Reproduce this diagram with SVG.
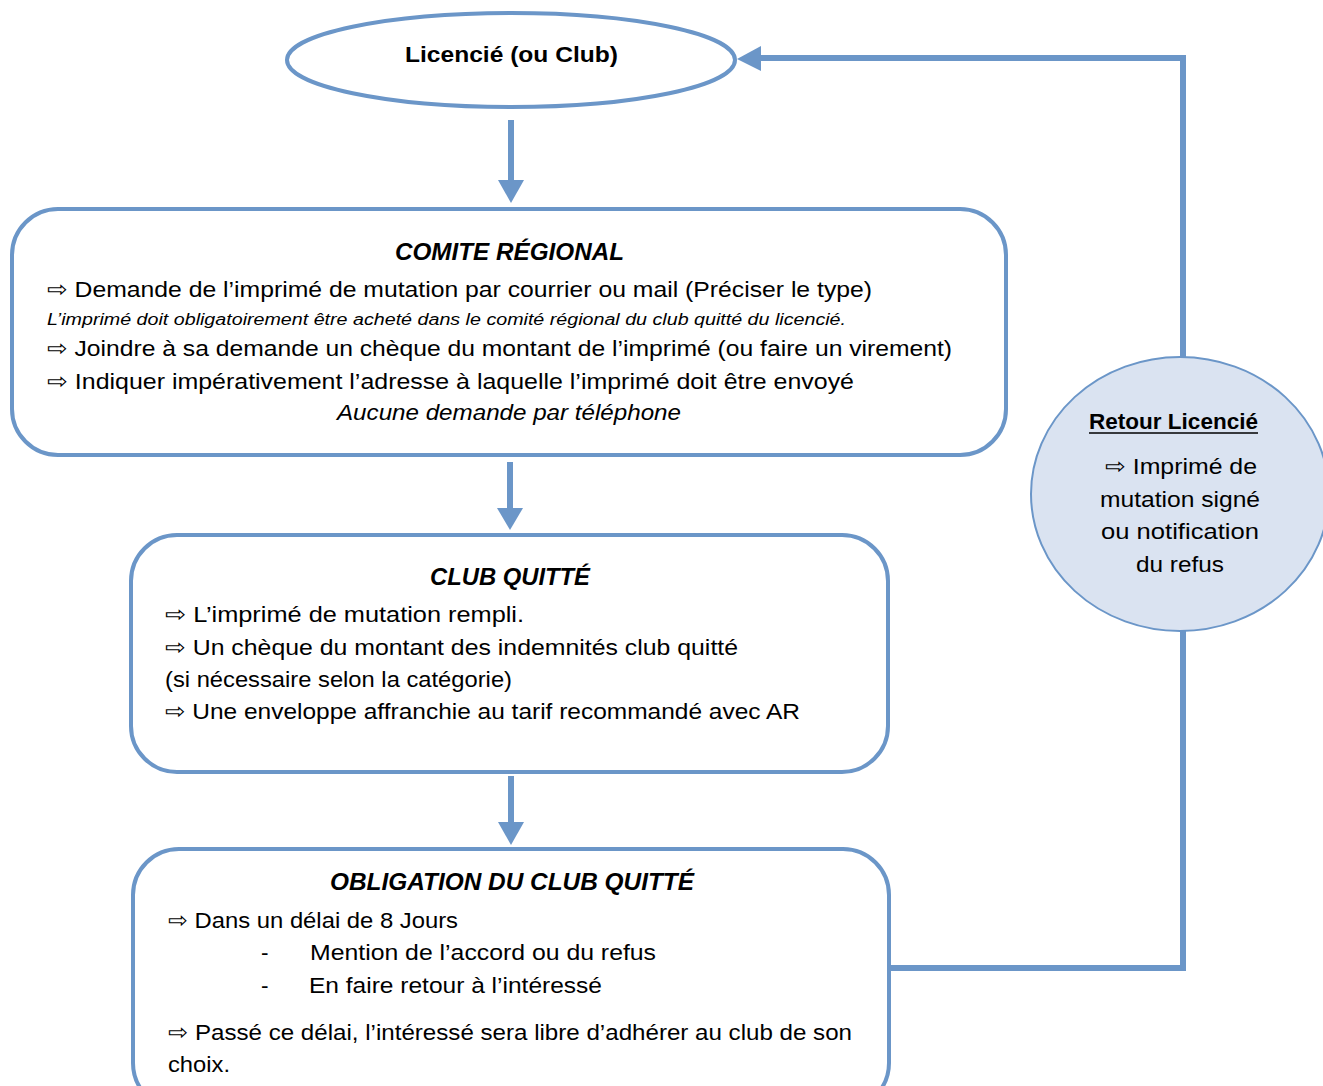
<svg xmlns="http://www.w3.org/2000/svg" width="1323" height="1086" viewBox="0 0 1323 1086">
<style>
.box{fill:#ffffff;stroke:#6b96c8;stroke-width:4}
.ln{fill:none;stroke:#6b96c8;stroke-width:6}
.hd{fill:#6b96c8}
text{font-family:"Liberation Sans","DejaVu Sans",sans-serif;fill:#000;font-size:22.5px}
.t{font-weight:bold;font-style:italic;font-size:24.5px}
.b{font-weight:bold}
.i{font-style:italic}
.s{font-style:italic;font-size:16px}
</style>
<rect width="1323" height="1086" fill="#ffffff"/>
<g id="connectors">
<line class="ln" x1="511" y1="120" x2="511" y2="182"/>
<polygon class="hd" points="498,180 524,180 511,203"/>
<line class="ln" x1="510" y1="462" x2="510" y2="510"/>
<polygon class="hd" points="497,508 523,508 510,530"/>
<line class="ln" x1="511" y1="776" x2="511" y2="824"/>
<polygon class="hd" points="498,822 524,822 511,845"/>
<polyline class="ln" points="889,968 1183,968 1183,630"/>
<polyline class="ln" points="1183,360 1183,58 758,58"/>
<polygon class="hd" points="761,46 761,71 737,59"/>
</g>
<g id="licencie">
<ellipse class="box" cx="511" cy="60" rx="224" ry="47"/>
<text class="b" x="405" y="62" textLength="213" lengthAdjust="spacingAndGlyphs">Licencié (ou Club)</text>
</g>
<g id="comite">
<rect class="box" x="12" y="209" width="994" height="246" rx="46"/>
<text class="t" x="395" y="260" textLength="229" lengthAdjust="spacingAndGlyphs">COMITE RÉGIONAL</text>
<text x="47" y="297" textLength="825" lengthAdjust="spacingAndGlyphs">⇨ Demande de l’imprimé de mutation par courrier ou mail (Préciser le type)</text>
<text class="s" x="47" y="325" textLength="799" lengthAdjust="spacingAndGlyphs">L’imprimé doit obligatoirement être acheté dans le comité régional du club quitté du licencié.</text>
<text x="47" y="356" textLength="905" lengthAdjust="spacingAndGlyphs">⇨ Joindre à sa demande un chèque du montant de l’imprimé (ou faire un virement)</text>
<text x="47" y="389" textLength="807" lengthAdjust="spacingAndGlyphs">⇨ Indiquer impérativement l’adresse à laquelle l’imprimé doit être envoyé</text>
<text class="i" x="337" y="420" textLength="344" lengthAdjust="spacingAndGlyphs">Aucune demande par téléphone</text>
</g>
<g id="club-quitte">
<rect class="box" x="131" y="535" width="757" height="237" rx="46"/>
<text class="t" x="430" y="585" textLength="160" lengthAdjust="spacingAndGlyphs">CLUB QUITTÉ</text>
<text x="165" y="622" textLength="359" lengthAdjust="spacingAndGlyphs">⇨ L’imprimé de mutation rempli.</text>
<text x="165" y="655" textLength="573" lengthAdjust="spacingAndGlyphs">⇨ Un chèque du montant des indemnités club quitté</text>
<text x="165" y="687" textLength="347" lengthAdjust="spacingAndGlyphs">(si nécessaire selon la catégorie)</text>
<text x="165" y="719" textLength="635" lengthAdjust="spacingAndGlyphs">⇨ Une enveloppe affranchie au tarif recommandé avec AR</text>
</g>
<g id="obligation">
<rect class="box" x="133" y="849" width="756" height="260" rx="46"/>
<text class="t" x="330" y="890" textLength="364" lengthAdjust="spacingAndGlyphs">OBLIGATION DU CLUB QUITTÉ</text>
<text x="168" y="928" textLength="290" lengthAdjust="spacingAndGlyphs">⇨ Dans un délai de 8 Jours</text>
<text x="261" y="960">-</text>
<text x="310" y="960" textLength="346" lengthAdjust="spacingAndGlyphs">Mention de l’accord ou du refus</text>
<text x="261" y="993">-</text>
<text x="309" y="993" textLength="293" lengthAdjust="spacingAndGlyphs">En faire retour à l’intéressé</text>
<text x="168" y="1040" textLength="684" lengthAdjust="spacingAndGlyphs">⇨ Passé ce délai, l’intéressé sera libre d’adhérer au club de son</text>
<text x="168" y="1072" textLength="62" lengthAdjust="spacingAndGlyphs">choix.</text>
</g>
<g id="retour">
<ellipse cx="1180" cy="494" rx="149" ry="137" fill="#dae3f1" stroke="#6b96c8" stroke-width="2"/>
<text class="b" x="1089" y="429" textLength="169" lengthAdjust="spacingAndGlyphs">Retour Licencié</text>
<line x1="1089" y1="433" x2="1258" y2="433" stroke="#000" stroke-width="1.6"/>
<text x="1105" y="474" textLength="152" lengthAdjust="spacingAndGlyphs">⇨ Imprimé de</text>
<text x="1100" y="507" textLength="160" lengthAdjust="spacingAndGlyphs">mutation signé</text>
<text x="1101" y="539" textLength="158" lengthAdjust="spacingAndGlyphs">ou notification</text>
<text x="1136" y="572" textLength="88" lengthAdjust="spacingAndGlyphs">du refus</text>
</g>
</svg>
